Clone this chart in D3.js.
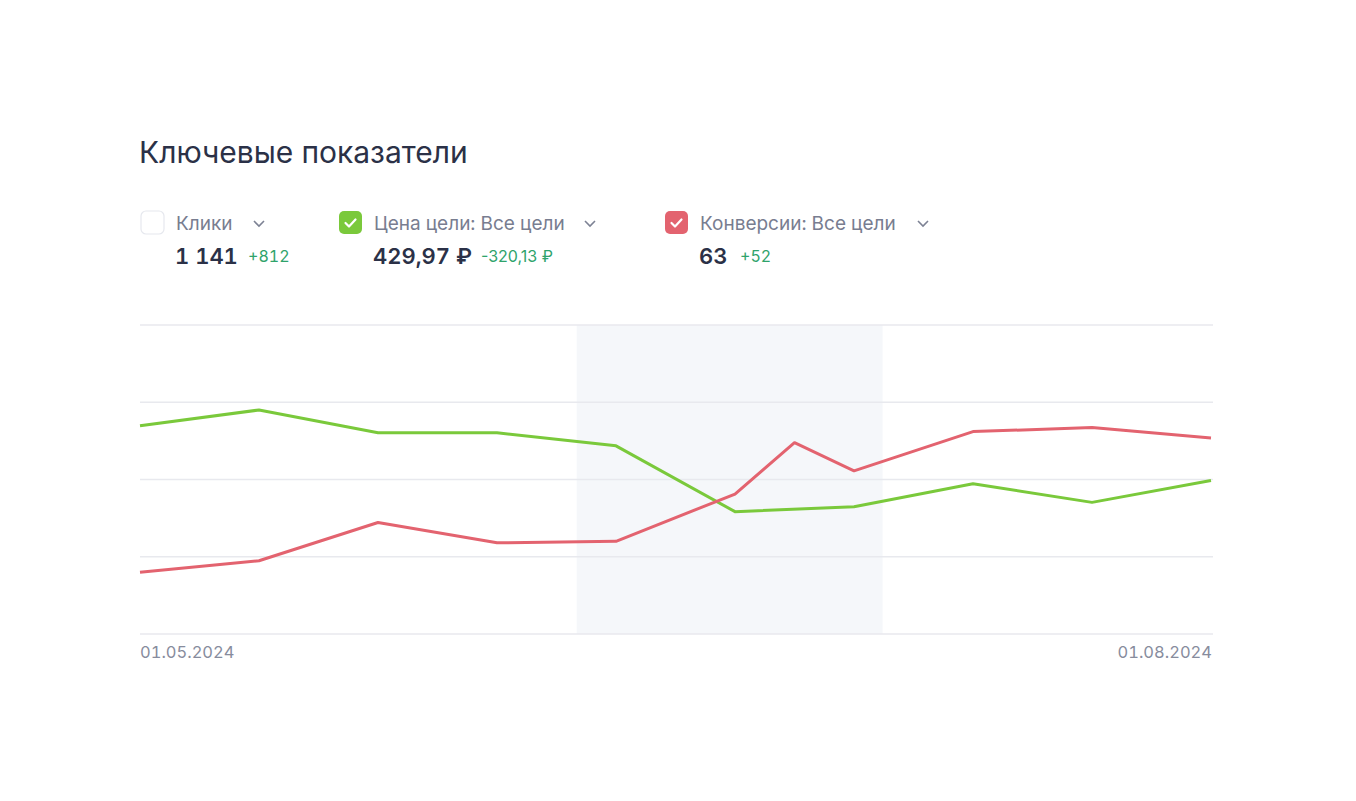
<!DOCTYPE html>
<html lang="ru">
<head>
    <meta charset="UTF-8">
    <title>Ключевые показатели</title>
    <script src="https://cdn.jsdelivr.net/npm/d3@7"></script>
    <style>
        body { margin: 0; background: #fff; }
        text { font-family: Inter, "Noto Sans", sans-serif; font-feature-settings: "tnum"; }
        text.money { font-feature-settings: normal; }
    </style>
</head>
<body>
    <script>
        // legend metrics
        const metricNames = ['Клики', 'Цена цели: Все цели', 'Конверсии: Все цели'];
        const metricTotals = ['1 141', '429,97 ₽', '63'];
        const metricDeltas = ['+812', '-320,13 ₽', '+52'];
        const metricChecked = [false, true, true];
        const metricColors = ['#ffffff', '#7ac93b', '#e3636f'];

        // x positions are period indexes, the red series has one extra point mid-period
        const dateLabels = ['01.05.2024', '01.08.2024'];
        const priceIdx = [0, 1, 2, 3, 4, 5, 6, 7, 8, 9];
        const priceValues = [67.4, 72.5, 65.1, 65.1, 60.9, 39.6, 41.2, 48.6, 42.6, 49.7];
        const convIdx = [0, 1, 2, 3, 4, 5, 5.5, 6, 7, 8, 9];
        const convValues = [20.0, 23.7, 36.1, 29.5, 30.0, 45.3, 61.9, 52.8, 65.5, 66.8, 63.4];
        const gridValues = [0, 25, 50, 75, 100];
        const highlight = [3.67, 6.24];

        const width = 1356, height = 801;
        const plotLeft = 140, plotRight = 1213, plotTop = 325, plotBottom = 634;

        const svg = d3.select('body').append('svg').attr('width', width).attr('height', height);

        svg.append('text').attr('x', 139).attr('y', 163)
            .attr('font-size', 30).attr('fill', '#2b3147').text('Ключевые показатели');

        // legend
        const itemX = [141, 339, 665];
        const chevronX = [259, 590, 923];
        const deltaX = [248, 481, 740];
        const legend = svg.selectAll('g.item').data(metricNames).enter().append('g')
            .attr('transform', (d, i) => `translate(${itemX[i]},211)`);
        legend.append('rect').attr('width', 23).attr('height', 23).attr('rx', 5)
            .attr('fill', (d, i) => metricColors[i])
            .attr('stroke', (d, i) => metricChecked[i] ? 'none' : '#e6e8ee').attr('stroke-width', 1.2);
        legend.filter((d, i) => metricChecked[i]).append('path')
            .attr('d', 'M6.5,12 L10,15.5 L16.5,8.5')
            .attr('fill', 'none').attr('stroke', '#fff').attr('stroke-width', 2.2)
            .attr('stroke-linecap', 'round').attr('stroke-linejoin', 'round');
        legend.append('text').attr('x', 35).attr('y', 19)
            .attr('font-size', 19).attr('fill', '#787d90').text(d => d);
        legend.append('path')
            .attr('d', (d, i) => `M${chevronX[i] - itemX[i] - 5},10 l5,5 l5,-5`)
            .attr('fill', 'none').attr('stroke', '#7d8294').attr('stroke-width', 1.6);
        legend.append('text').attr('x', 34).attr('y', 53)
            .attr('font-size', 22).attr('font-weight', 600).attr('fill', '#2b3147')
            .text((d, i) => metricTotals[i]);
        legend.append('text')
            .attr('class', (d, i) => metricDeltas[i].includes('₽') ? 'money' : null)
            .attr('x', (d, i) => deltaX[i] - itemX[i])
            .attr('y', 51)
            .attr('font-size', 16).attr('fill', '#2fa36b')
            .text((d, i) => metricDeltas[i]);

        // chart
        const x = d3.scaleLinear().domain([0, 9]).range([plotLeft, plotRight - 2]);
        const y = d3.scaleLinear().domain([0, 100]).range([plotBottom, plotTop]);

        svg.append('rect')
            .attr('x', x(highlight[0])).attr('y', plotTop)
            .attr('width', x(highlight[1]) - x(highlight[0])).attr('height', plotBottom - plotTop)
            .attr('fill', '#f5f7fa');

        svg.selectAll('line.grid').data(gridValues).enter().append('line')
            .attr('x1', plotLeft).attr('x2', plotRight)
            .attr('y1', d => y(d)).attr('y2', d => y(d))
            .attr('stroke', '#e8e9ee').attr('stroke-width', 1.5);

        const line = d3.line().x(d => x(d[0])).y(d => y(d[1]));
        svg.append('path').datum(d3.zip(priceIdx, priceValues)).attr('d', line)
            .attr('fill', 'none').attr('stroke', metricColors[1]).attr('stroke-width', 3)
            .attr('stroke-linejoin', 'round');
        svg.append('path').datum(d3.zip(convIdx, convValues)).attr('d', line)
            .attr('fill', 'none').attr('stroke', metricColors[2]).attr('stroke-width', 3)
            .attr('stroke-linejoin', 'round');

        svg.append('text').attr('x', plotLeft).attr('y', 658)
            .attr('font-size', 16.5).attr('fill', '#878c9d').text(dateLabels[0]);
        svg.append('text').attr('x', plotRight - 1).attr('y', 658).attr('text-anchor', 'end')
            .attr('font-size', 16.5).attr('fill', '#878c9d').text(dateLabels[1]);
    </script>
</body>
</html>
